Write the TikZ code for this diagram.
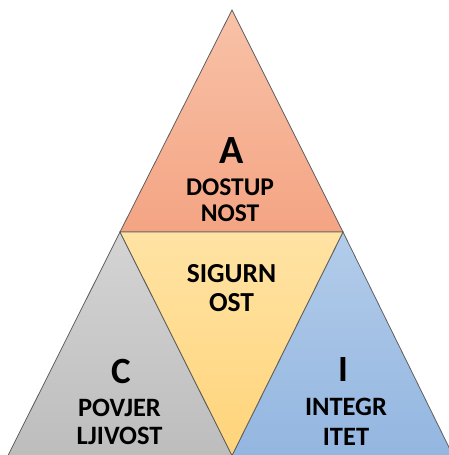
\documentclass[tikz,border=0pt]{standalone}
\usepackage{fontspec}
\setmainfont{Carlito}
\definecolor{orTop}{HTML}{F8C2A8}
\definecolor{orBot}{HTML}{F4A483}
\definecolor{yeTop}{HTML}{FFE3A4}
\definecolor{yeBot}{HTML}{FFD47A}
\definecolor{grTop}{HTML}{D4D4D4}
\definecolor{grBot}{HTML}{BDBDBD}
\definecolor{blTop}{HTML}{B3CCEA}
\definecolor{blBot}{HTML}{93B6E0}
\definecolor{edge}{HTML}{5E5E5E}
\begin{document}
\begin{tikzpicture}[x=1pt,y=-1pt,
  part/.style={draw=edge,line width=0.8pt,line join=miter},
  big/.style={anchor=base,inner sep=0pt,font=\bfseries\fontsize{#1}{#1}\selectfont},
  word/.style={anchor=base,inner sep=0pt,font=\bfseries\fontsize{#1}{#1}\selectfont}]
\useasboundingbox (0,0) rectangle (449,455);
\clip (0,0) rectangle (449,455);
\coordinate (T) at (232,10);
\coordinate (L) at (120,232);
\coordinate (R) at (343,232);
\coordinate (BL) at (8,455.5);
\coordinate (BM) at (232,455.5);
\coordinate (BR) at (453,455.5);
\path[part,top color=orTop,bottom color=orBot] (T) -- (L) -- (R) -- cycle;
\path[part,top color=grTop,bottom color=grBot] (L) -- (BL) -- (BM) -- cycle;
\path[part,top color=blTop,bottom color=blBot] (R) -- (BM) -- (BR) -- cycle;
\path[part,top color=yeTop,bottom color=yeBot] (L) -- (R) -- (BM) -- cycle;
% labels
\node[big=40] (a) at (232,163) {A};
\node[word=25.5] (a1) at (230,195) {DOSTUP};
\node[word=25.5] (a2) at (230,221) {NOST};
\node[word=27.5] (s1) at (231.5,282) {SIGURN};
\node[word=27.5] (s2) at (231.5,311) {OST};
\node[big=37] (c) at (121,383) {C};
\node[word=26.5] (c1) at (119.5,416) {POVJER};
\node[word=26.5] (c2) at (119.5,444) {LJIVOST};
\node[big=37] (i) at (343,381) {I};
\node[word=26.5] (i1) at (346,415) {INTEGR};
\node[word=26.5] (i2) at (346,445) {ITET};
\end{tikzpicture}
\end{document}
